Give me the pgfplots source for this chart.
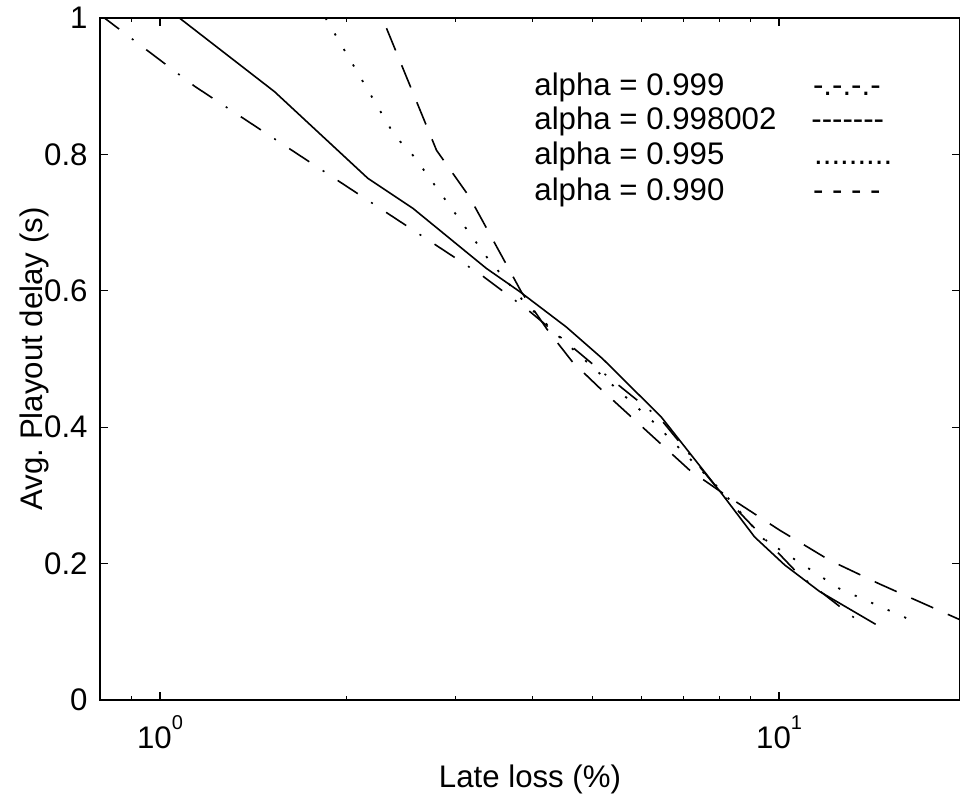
\documentclass[border=0pt]{standalone}
\usepackage{fontspec}
\setmainfont{Liberation Sans}
\usepackage{pgfplots}
\pgfplotsset{compat=1.18}
\newcommand{\fs}{\fontsize{15.6}{18}\selectfont}
\newcommand{\ex}[1]{10\raisebox{9.5pt}{\fontsize{10}{10}\selectfont #1}}
\begin{document}
\fs
\begin{tikzpicture}
\useasboundingbox (-50pt,-49pt) rectangle (430pt,350pt);
\begin{axis}[
  scale only axis, width=430pt, height=341pt,
  at={(0,0)}, anchor=south west,
  xmode=log, xmin=0.8, xmax=19.6, ymin=0, ymax=1,
  xtick={1,10}, xticklabels={\ex{0},\ex{1}},
  minor xtick={0.9,2,3,4,5,6,7,8,9},
  ytick={0,0.2,0.4,0.6,0.8,1}, yticklabels={0,0.2,0.4,0.6,0.8,1},
  tick align=inside, major tick length=3.8pt, minor tick length=1.8pt,
  tick pos=both,
  axis line style={line width=1pt},
  every tick/.style={black, line width=0.6pt},
  ticklabel style={font=\fs},
  xticklabel style={inner sep=0pt, anchor=north, yshift=-7.5pt},
  yticklabel style={inner sep=0pt, anchor=east, xshift=-6pt},
  xlabel={Late loss (\%)}, ylabel={Avg.\ Playout delay (s)},
  label style={font=\fs},
  xlabel style={at={(axis description cs:0.5,-0.129)}, anchor=base, inner sep=0pt},
  ylabel style={at={(axis description cs:-0.0663,0.5)}, anchor=base, inner sep=0pt},
  clip=true,
]
% alpha = 0.999 (dash-dot)
\addplot[black, line width=0.8pt, dash pattern=on 12pt off 8pt on 1pt off 8pt] coordinates {
(0.8,1.005) (1.137,0.900) (3.306,0.623) (3.953,0.570) (5.13,0.484) (6.436,0.412) (8.104,0.301) (10.79,0.183) (13.75,0.1085)};
% alpha = 0.998002 (solid)
\addplot[black, line width=0.8pt] coordinates {
(1.075,1.0) (1.531,0.892) (2.166,0.765) (2.561,0.721) (3.365,0.633) (3.809,0.599) (4.531,0.547) (5.192,0.500) (6.452,0.415) (8.104,0.301) (9.13,0.239) (10.21,0.198) (11.63,0.159) (14.32,0.111)};
% alpha = 0.995 (dotted)
\addplot[black, line width=0.9pt, dash pattern=on 1.1pt off 7.9pt] coordinates {
(1.851,1.0) (2.392,0.828) (2.577,0.796) (3.381,0.648) (3.851,0.5865) (4.419,0.532) (6.294,0.406) (8.166,0.302) (9.44,0.236) (12.53,0.163) (16.93,0.111)};
% alpha = 0.990 (dashed)
\addplot[black, line width=0.8pt, dash pattern=on 12pt off 8pt] coordinates {
(2.322,0.985) (2.797,0.806) (3.162,0.7375) (3.837,0.598) (4.227,0.5425) (4.638,0.4956) (5.13,0.4575) (7.17,0.337) (8.104,0.3035) (10.02,0.249) (12.06,0.205) (14.54,0.170) (20.01,0.114)};
% legend text
\node[anchor=base west, inner sep=0pt, font=\fs] at (rel axis cs:0.5047,0.887) {alpha = 0.999};
\node[anchor=base west, inner sep=0pt, font=\fs] at (rel axis cs:0.5047,0.836) {alpha = 0.998002};
\node[anchor=base west, inner sep=0pt, font=\fs] at (rel axis cs:0.5047,0.785) {alpha = 0.995};
\node[anchor=base west, inner sep=0pt, font=\fs] at (rel axis cs:0.5047,0.733) {alpha = 0.990};
\node[anchor=base west, inner sep=0pt, font=\fs] at (rel axis cs:0.8287,0.887) {-.-.-.-};
\node[anchor=base west, inner sep=0pt, font=\fs] at (rel axis cs:0.8267,0.836) {-\kern0pt-\kern0pt-\kern0pt-\kern0pt-\kern0pt-\kern0pt-};
\node[anchor=base west, inner sep=0pt, font=\fs] at (rel axis cs:0.830,0.785) {.........};
\node[anchor=base west, inner sep=0pt, font=\fs] at (rel axis cs:0.8287,0.733) {- - - -};
\end{axis}
\end{tikzpicture}
\end{document}
